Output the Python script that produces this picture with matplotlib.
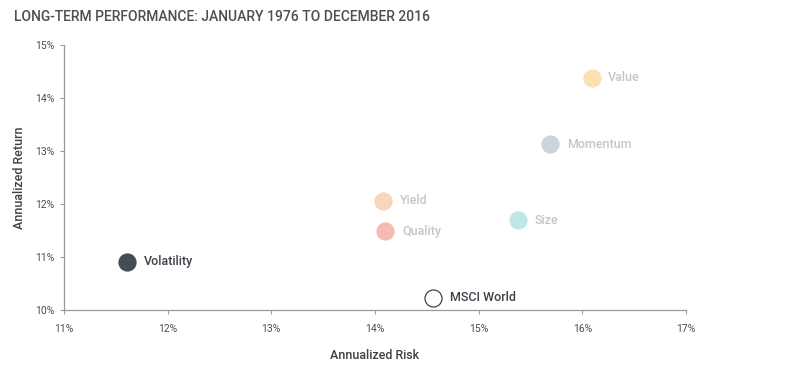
"""
Rendement / risque annualisés des facteurs, 1976-2016
"""

import matplotlib.pyplot as plt
from matplotlib.ticker import FuncFormatter, MultipleLocator

plt.rcParams['font.family'] = ['Roboto', 'DejaVu Sans']

names = ['Volatility', 'MSCI World', 'Quality', 'Yield', 'Size', 'Momentum', 'Value']
risk = [11.61, 14.56, 14.10, 14.08, 15.38, 15.69, 16.09]
ret = [10.91, 10.23, 11.49, 12.06, 11.70, 13.13, 14.38]
face_colors = ['#474c52', '#ffffff', '#f3bcb3', '#f9d5bd', '#bfe7e5', '#cdd3d7', '#fbe0b0']
edge_colors = ['#474c52', '#3d4249', '#f3bcb3', '#f9d5bd', '#bfe7e5', '#cdd3d7', '#fbe0b0']
label_colors = ['#3d4249', '#3d4249', '#c6c6c6', '#c6c6c6', '#c6c6c6', '#c6c6c6', '#c6c6c6']

fig = plt.figure(figsize=(8.09, 3.67), dpi=100, facecolor='white')
ax = fig.add_axes([0.079, 0.155, 0.769, 0.722])

for n, x, y, fc, ec, lc in zip(names, risk, ret, face_colors, edge_colors, label_colors):
    ax.scatter(x, y, s=150, color=fc, edgecolors=ec, linewidths=0.9, zorder=3)
    ax.annotate(n, (x, y), xytext=(12, 0), textcoords='offset points',
                va='center', ha='left', fontsize=9, fontweight='medium', color=lc)

ax.set_xlim(11, 17)
ax.set_ylim(10, 15)
ax.xaxis.set_major_locator(MultipleLocator(1))
ax.yaxis.set_major_locator(MultipleLocator(1))
pct = FuncFormatter(lambda v, p: f'{v:.0f}%')
ax.xaxis.set_major_formatter(pct)
ax.yaxis.set_major_formatter(pct)

for s in ['top', 'right']:
    ax.spines[s].set_visible(False)
for s in ['left', 'bottom']:
    ax.spines[s].set_color('#9a9a9a')
    ax.spines[s].set_linewidth(0.9)
ax.tick_params(length=3, width=0.8, color='#9a9a9a', labelsize=7.5, labelcolor='#4a4f55', pad=4)
ax.tick_params(axis='x', pad=7)

ax.set_xlabel('Annualized Risk', fontsize=9, fontweight='medium', color='#3d4249', labelpad=11)
ax.set_ylabel('Annualized Return', fontsize=9, fontweight='medium', color='#3d4249', labelpad=6)

fig.text(0.017, 0.953, 'LONG-TERM PERFORMANCE: JANUARY 1976 TO DECEMBER 2016',
         fontsize=10, fontweight='medium', color='#4a4f55', va='center', ha='left')

fig.savefig('out.png', dpi=100)
